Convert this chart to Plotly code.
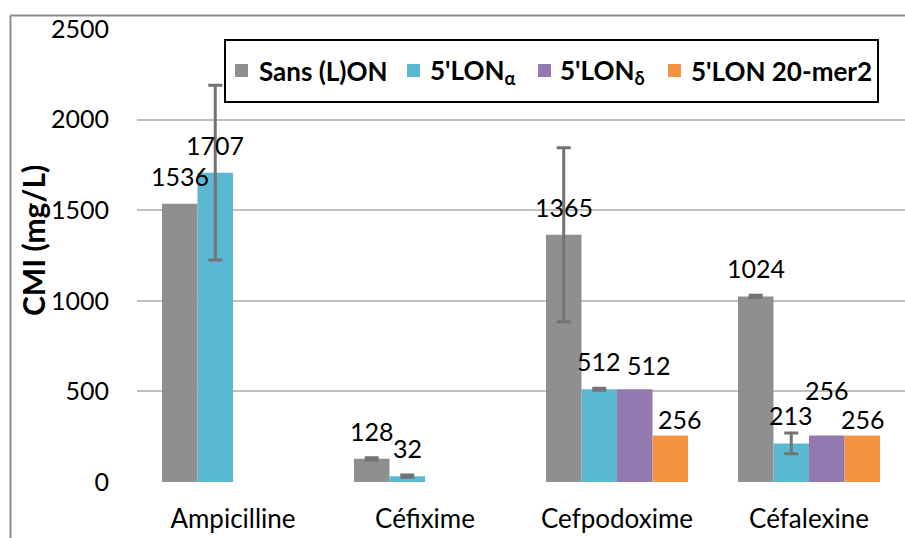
import numpy as np
import plotly.graph_objects as go

# ---- data -------------------------------------------------------------
categories = ["Ampicilline", "Céfixime", "Cefpodoxime", "Céfalexine"]
series_names = ["Sans (L)ON", "5'LON<sub>α</sub>", "5'LON<sub>δ</sub>", "5'LON 20-mer2"]

sans_lon = [1536, 128, 1365, 1024]
lon_alpha = [1707, 32, 512, 213]
lon_delta = [None, None, 512, 256]
lon_20mer2 = [None, None, 256, 256]

sans_lon_err = [None, 6, 480, 6]
lon_alpha_err = [482, 6, 5, 57]
lon_delta_err = [None, None, None, None]
lon_20mer2_err = [None, None, None, None]

y_ticks = [0, 500, 1000, 1500, 2000, 2500]

# ---- styling ----------------------------------------------------------
colors = ["#8f8f8f", "#5bb8d3", "#9479b1", "#f29441"]
FONT = "Lato"
W, H = 905, 538
ML, MT, MB = 137, 29, 56
PW, PH = W - ML, H - MT - MB
BARGAP = 0.26
BW = (1 - BARGAP) / 4

# label nudges (dx, dy) in px for labels moved off their default spot
label_nudge = {(2, 2): (14, -4), (3, 2): (10, -11), (2, 3): (0, 18), (3, 3): (1, -11)}


def px_x(px):
    return (px - ML) / PW


def px_y(py):
    return (H - MB - py) / PH


series = [sans_lon, lon_alpha, lon_delta, lon_20mer2]
errors = [sans_lon_err, lon_alpha_err, lon_delta_err, lon_20mer2_err]

fig = go.Figure()
for name, vals, errs, col in zip(series_names, series, errors, colors):
    err_arr = np.array([np.nan if e is None else e for e in errs], dtype=float)
    fig.add_trace(go.Bar(
        x=categories,
        y=[np.nan if v is None else v for v in vals],
        name=name,
        marker=dict(color=col, line=dict(width=0)),
        error_y=dict(type="data", array=err_arr, visible=not np.all(np.isnan(err_arr)),
                     color="#737373", thickness=3, width=7),
        showlegend=False,
    ))

annotations = []
# value labels
for si, vals in enumerate(series):
    for ci, v in enumerate(vals):
        if v is None:
            continue
        dx, dy = label_nudge.get((si, ci), (0, 0))
        annotations.append(dict(
            x=ci + (si - 1.5) * BW, y=v, xref="x", yref="y",
            text=str(v), showarrow=False, yanchor="middle", xanchor="center",
            xshift=dx, yshift=28 + dy,
            font=dict(family=FONT, size=25, color="#000000"),
        ))

# y axis title
annotations.append(dict(
    x=px_x(33), y=px_y(241), xref="paper", yref="paper",
    text="<b>CMI (mg/L)</b>", textangle=-90, showarrow=False,
    xanchor="center", yanchor="middle",
    font=dict(family=FONT, size=30, color="#000000"),
))

shapes = []
# outer chart frame
shapes.append(dict(type="line", xref="paper", yref="paper",
                   x0=px_x(10.5), x1=px_x(W + 5), y0=px_y(15.5), y1=px_y(15.5),
                   line=dict(color="#8c8c8c", width=2)))
shapes.append(dict(type="line", xref="paper", yref="paper",
                   x0=px_x(10.5), x1=px_x(10.5), y0=px_y(15.5), y1=px_y(H + 5),
                   line=dict(color="#8c8c8c", width=2)))

# legend box
shapes.append(dict(type="rect", xref="paper", yref="paper",
                   x0=px_x(225), x1=px_x(878), y0=px_y(40), y1=px_y(102),
                   line=dict(color="#000000", width=2), fillcolor="white", layer="above"))
legend_sq = [235, 407, 538, 668]
legend_tx = [257, 428, 558, 689]
for name, col, sx, tx in zip(series_names, colors, legend_sq, legend_tx):
    shapes.append(dict(type="rect", xref="paper", yref="paper",
                       x0=px_x(sx), x1=px_x(sx + 13), y0=px_y(64), y1=px_y(77),
                       line=dict(width=0), fillcolor=col, layer="above"))
    annotations.append(dict(
        x=px_x(tx), y=px_y(71), xref="paper", yref="paper",
        text="<b>" + name + "</b>", showarrow=False,
        xanchor="left", yanchor="middle",
        font=dict(family=FONT, size=26, color="#000000"),
    ))

fig.update_layout(
    width=W, height=H,
    margin=dict(l=ML, r=0, t=MT, b=MB, autoexpand=False),
    paper_bgcolor="white", plot_bgcolor="white",
    barmode="group", bargap=BARGAP, bargroupgap=0,
    font=dict(family=FONT, size=24, color="#000000"),
    annotations=annotations, shapes=shapes,
    showlegend=False,
)
fig.update_xaxes(
    type="category", showgrid=False, zeroline=False, showline=False,
    ticks="", tickfont=dict(family=FONT, size=26, color="#000000"),
    ticklabelstandoff=19,
)
fig.update_yaxes(
    range=[0, 2500], tickvals=y_ticks, ticktext=[str(t) for t in y_ticks],
    showgrid=True, gridcolor="#bfbfbf", gridwidth=2,
    zeroline=False, showline=False, ticks="",
    tickfont=dict(family=FONT, size=25, color="#000000"),
    ticklabelstandoff=27,
)

fig.write_html("out.html")
